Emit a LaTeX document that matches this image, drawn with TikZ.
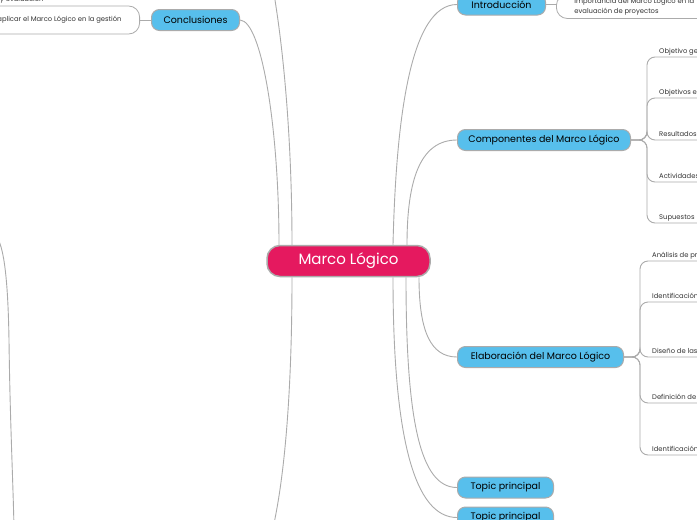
\documentclass[tikz,border=0pt]{standalone}
\usepackage{fontspec}
\setmainfont{Poppins}
\usetikzlibrary{positioning}
\definecolor{mainpink}{HTML}{E5195F}
\definecolor{topicblue}{HTML}{57BFEC}
\definecolor{linkgray}{HTML}{ABABAB}
\definecolor{leafink}{HTML}{333333}
\tikzset{
  centralbox/.style={draw=linkgray,line width=1.5pt,fill=mainpink,text=white,rounded corners=13pt,minimum height=31pt,font=\fontsize{15}{17}\selectfont},
  topicbox/.style={draw=linkgray,line width=1pt,fill=topicblue,text=black,rounded corners=8pt,minimum height=21pt,anchor=west,font=\fontsize{9.5}{11}\selectfont},
  notebox/.style={draw=linkgray,line width=.8pt,fill=white,rounded corners=11pt,minimum height=24pt,inner xsep=18pt,align=left,text=leafink,font=\fontsize{6.8}{9.5}\selectfont},
  leaf/.style={anchor=south west,inner xsep=3pt,inner ysep=3.5pt,text depth=0pt,text=leafink,font=\fontsize{6.8}{8}\selectfont},
  link/.style={draw=linkgray,line width=.9pt}
}

\begin{document}
\begin{tikzpicture}[x=1pt,y=-1pt]
\useasboundingbox (0,0) rectangle (697,520);
\clip (0,0) rectangle (697,520);
\node[centralbox,minimum width=163pt] (ml) at (348.5,261) {Marco Lógico};
\node[topicbox,minimum width=88pt] (intro) at (457,4.5) {Introducción};
\node[notebox,anchor=west] (impo) at (556,6.5) {Importancia del Marco Lógico en la\\evaluación de proyectos};
\node[topicbox,minimum width=173pt] (comp) at (457,140) {Componentes del Marco Lógico};
\node[topicbox,minimum width=166pt] (elab) at (457,357) {Elaboración del Marco Lógico};
\node[topicbox,minimum width=96pt] (topa) at (457,487.5) {Topic principal};
\node[topicbox,minimum width=96pt] (topb) at (457,517.5) {Topic principal};
\node[topicbox,anchor=east,minimum width=88pt] (concl) at (240,20) {Conclusiones};
\node[notebox,anchor=east,minimum height=28pt] (benef) at (140,20) {Beneficios de aplicar el Marco Lógico en la gestión};
\node[leaf,anchor=west] (yeval) at (-3,-1) {y evaluación};
\coordinate (upend) at (274,-6);
\coordinate (downend) at (273,528);
\coordinate (lefttop) at (-8,233);
\coordinate (leftend) at (14,528);
\draw[link] ([xshift=44.5pt]ml.north) .. controls (396,120) and (410,4.5) .. (intro.west);
\draw[link] ([xshift=58.5pt]ml.north) .. controls (407,180) and (420,140) .. (comp.west);
\draw[link] ([xshift=70.5pt]ml.south) .. controls (419,330) and (430,357) .. (elab.west);
\draw[link] ([xshift=57.5pt]ml.south) .. controls (406,420) and (420,487.5) .. (topa.west);
\draw[link] ([xshift=44.5pt]ml.south) .. controls (393,440) and (415,517.5) .. (topb.west);
\draw[link] (intro.east) -- (impo.west |- intro.east);
\draw[link] (concl.west) -- (benef.east);
\draw[link] (concl.east) .. controls (262,21) and (279,130) .. ([xshift=-69.5pt]ml.north);
\draw[link] ([xshift=-56.5pt]ml.north) .. controls (292,150) and (285,60) .. (upend);
\draw[link] ([xshift=-56.5pt]ml.south) .. controls (292,380) and (286,470) .. (downend);
\draw[link] (lefttop) .. controls (4,236) and (8,280) .. (9,340) .. controls (10,420) and (13,480) .. (leftend);
\foreach \y/\n/\t in {57/og/Objetivo general,98/oe/Objetivos específicos,140/rs/Resultados,182/ac/Actividades,223/sp/Supuestos}{
  \node[leaf] (\n) at (656,\y) {\t};
  \draw[link,rounded corners=8pt] (comp.east) -| ([xshift=-9pt]\n.south west) -- ([xshift=70pt]\n.south west);
}
\foreach \y/\n/\t in {261/ap/Análisis de problemas,302/io/Identificación de objetivos,357/de/Diseño de las estrategias,403/di/Definición de indicadores,455/ir/Identificación de riesgos}{
  \node[leaf] (\n) at (649,\y) {\t};
  \draw[link,rounded corners=8pt] (elab.east) -| ([xshift=-9pt]\n.south west) -- ([xshift=70pt]\n.south west);
}
\end{tikzpicture}
\end{document}
